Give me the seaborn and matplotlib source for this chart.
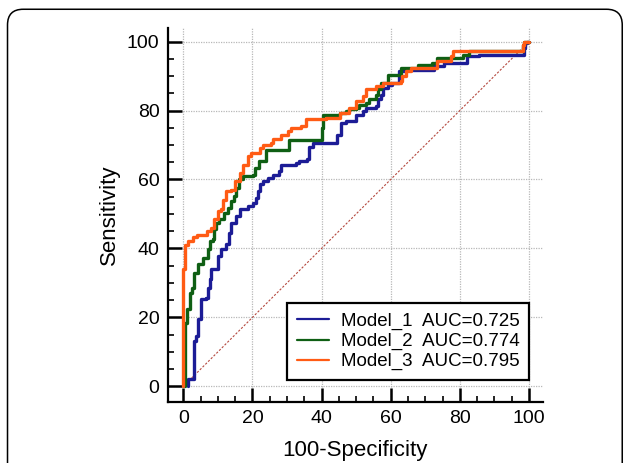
import matplotlib

matplotlib.use("Agg")
import matplotlib.pyplot as plt
import pandas as pd
import seaborn as sns
from matplotlib.patches import FancyBboxPatch
from matplotlib.ticker import MultipleLocator

# step corners of each ROC curve (100-specificity, sensitivity)
m1_x = [1.3, 1.3, 3.0, 3.7, 4.2, 5.0, 5.1, 6.6, 7.1, 7.6, 8.0, 10.0, 10.9, 12.4, 13.3, 13.8,
        15.2, 16.5, 18.7, 20.1, 21.0, 21.5, 22.3, 23.2, 24.5, 25.9, 27.6, 28.3, 32.7, 33.6,
        35.8, 36.5, 37.5, 44.5, 45.7, 47.1, 50.0, 51.9, 52.9, 55.8, 56.2, 57.2, 57.7, 59.1,
        60.5, 62.5, 64.4, 72.6, 75.5, 82.2, 85.6, 98.6, 99.0, 99.5, 100.0]
m1_y = [0.0, 2.0, 13.1, 14.6, 19.4, 22.3, 25.2, 25.7, 28.6, 31.0, 33.9, 37.8, 39.7, 41.2, 44.5, 47.4,
        49.4, 51.3, 52.3, 53.2, 54.5, 56.6, 58.6, 59.5, 60.5, 61.4, 62.4, 64.1, 64.8, 65.3,
        65.8, 69.4, 70.6, 73.0, 76.4, 76.9, 78.8, 79.8, 80.8, 81.2, 83.2, 84.6, 86.6, 87.5,
        88.0, 91.4, 91.9, 92.8, 93.8, 95.7, 96.2, 98.1, 99.6, 100.0, 100.0]

m2_x = [0.5, 0.5, 1.1, 1.8, 2.5, 3.0, 4.2, 5.6, 7.1, 7.6, 8.5, 9.0, 9.5, 10.4, 11.9, 12.8, 13.8,
        14.8, 15.2, 16.2, 17.2, 20.1, 20.6, 22.0, 24.0, 30.7, 40.0, 40.5, 45.2, 47.1, 48.0, 50.0,
        50.9, 52.9, 53.8, 55.8, 56.2, 57.2, 59.1, 63.0, 67.8, 72.1, 73.5, 80.8, 82.7, 98.3,
        98.6, 100.0]
m2_y = [0.0, 18.5, 22.3, 27.2, 28.6, 33.0, 35.4, 37.3, 39.7, 42.1, 42.6, 45.5, 47.4, 48.4, 50.3,
        51.8, 53.7, 55.2, 57.6, 60.0, 61.0, 61.4, 63.4, 65.3, 68.5, 71.4, 75.0, 78.8, 79.3, 79.8,
        80.3, 80.8, 81.7, 82.2, 83.2, 84.6, 86.1, 88.0, 90.4, 92.4, 93.3, 93.8, 95.2, 96.2, 97.2,
        99.1, 100.0, 100.0]

m3_x = [0.0, 0.0, 0.5, 0.6, 1.3, 2.7, 3.9, 6.8, 8.0, 8.8, 10.0, 10.8, 11.6, 12.3, 13.7, 14.9,
        16.3, 17.3, 18.7, 19.7, 22.1, 23.0, 25.5, 25.9, 28.3, 30.2, 31.2, 34.1, 35.6, 41.3, 45.2,
        48.0, 50.0, 51.9, 52.9, 55.8, 57.7, 63.0, 63.4, 64.4, 65.9, 73.5, 77.4, 77.9, 98.3, 98.6,
        100.0]
m3_y = [0.0, 34.0, 38.0, 41.0, 42.3, 43.2, 43.9, 45.0, 45.8, 48.4, 50.8, 51.3, 54.0, 56.6, 57.0,
        59.5, 61.9, 64.3, 66.8, 67.7, 69.2, 70.1, 70.6, 71.6, 73.0, 74.0, 75.0, 75.4, 77.4, 77.9,
        79.3, 80.8, 82.7, 84.1, 86.1, 87.0, 88.0, 88.5, 90.0, 91.4, 92.4, 94.3, 95.7, 97.2, 99.1,
        100.0, 100.0]

labels = ["Model_1  AUC=0.725", "Model_2  AUC=0.774", "Model_3  AUC=0.795"]
colors = ["#1c1c96", "#0f5f14", "#ff5b14"]
ticks = [0, 20, 40, 60, 80, 100]

frames = []
for lab, xs, ys in zip(labels, [m1_x, m2_x, m3_x], [m1_y, m2_y, m3_y]):
    frames.append(pd.DataFrame({"fpr": xs, "tpr": ys, "model": lab}))
df = pd.concat(frames, ignore_index=True)

sns.set_style("ticks")
plt.rcParams["font.family"] = ["Liberation Sans", "DejaVu Sans"]
for key in ["text.color", "axes.labelcolor", "xtick.color", "ytick.color", "axes.edgecolor"]:
    plt.rcParams[key] = "black"

fig = plt.figure(figsize=(6.26, 4.63), dpi=100)
ax = fig.add_axes([0.268, 0.132, 0.599, 0.808])

# rounded panel border
fig.patches.append(FancyBboxPatch((0.012, -0.1), 0.982, 1.08, boxstyle="round,pad=0,rounding_size=0.025",
                                  transform=fig.transFigure, fill=False, edgecolor="black", linewidth=1.1,
                                  mutation_aspect=626 / 463))

ax.plot([0, 100], [0, 100], color="#b5493f", linewidth=0.8, linestyle=(0, (2, 1.5)), zorder=1)
sns.lineplot(data=df, x="fpr", y="tpr", hue="model", palette=colors, estimator=None, sort=False,
             drawstyle="steps-post", linewidth=2.4, ax=ax, zorder=3)

ax.set_xlim(-4.5, 104)
ax.set_ylim(-4.5, 104)
ax.set_xticks(ticks)
ax.set_yticks(ticks)
ax.xaxis.set_minor_locator(MultipleLocator(5))
ax.yaxis.set_minor_locator(MultipleLocator(5))
ax.grid(True, which="major", color="#b8b8b8", linestyle=(0, (1, 1)), linewidth=0.9)
ax.tick_params(which="major", length=10, width=1.8, labelsize=14, direction="in", pad=6)
ax.tick_params(which="minor", length=4.5, width=1.2, direction="in")
for side in ["top", "right"]:
    ax.spines[side].set_visible(False)
for side in ["left", "bottom"]:
    ax.spines[side].set_linewidth(1.6)
ax.set_xlabel("100-Specificity", fontsize=16, labelpad=9)
ax.set_ylabel("Sensitivity", fontsize=16, labelpad=5)

leg = ax.legend(loc="lower right", bbox_to_anchor=(0.963, 0.059), borderaxespad=0, fontsize=13.5,
                fancybox=False, edgecolor="black", framealpha=1, handlelength=1.7, handletextpad=0.65,
                labelspacing=0.15, borderpad=0.5)
leg.get_frame().set_linewidth(1.6)
for line in leg.get_lines():
    line.set_linewidth(1.6)

fig.savefig("out.png", dpi=100)
